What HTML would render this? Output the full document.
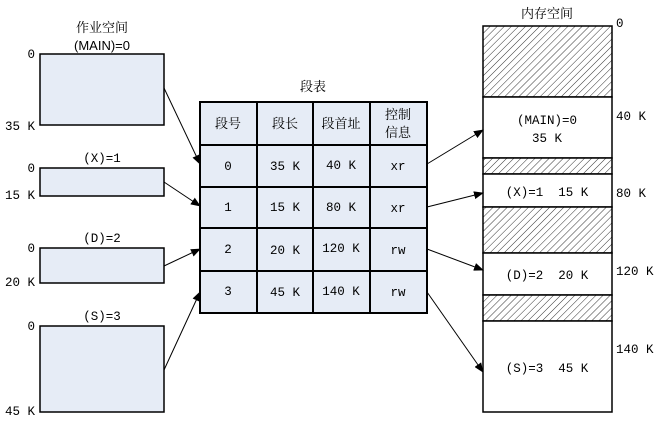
<!DOCTYPE html>
<html><head><meta charset="utf-8"><style>
body{margin:0;background:#fff;}
svg text{font-family:"Liberation Mono","Noto Serif CJK SC",monospace;font-size:12.5px;fill:#000;white-space:pre;}
.cj{font-family:"Liberation Serif","Noto Serif CJK SC",serif;font-size:13px;}
.sn{font-family:"Liberation Sans","Noto Sans CJK SC",sans-serif;font-size:13px;}
</style></head><body>
<svg width="654" height="426" xmlns="http://www.w3.org/2000/svg">
<defs>
<pattern id="h" width="5" height="5" patternUnits="userSpaceOnUse" patternTransform="rotate(45)">
<rect width="5" height="5" fill="#fff"/><line x1="0" y1="0" x2="0" y2="5" stroke="#000" stroke-width="0.8"/></pattern>
<marker id="a" markerWidth="10" markerHeight="8" refX="9" refY="4" orient="auto" markerUnits="userSpaceOnUse">
<path d="M0,0 L10,4 L0,8 z" fill="#000"/></marker>
</defs>
<text x="102" y="32" text-anchor="middle" class="cj" fill="#333">作业空间</text>
<text x="102" y="50" text-anchor="middle" class="sn">(MAIN)=0</text>
<g fill="#e6ecf6" stroke="#000" stroke-width="1.5">
<rect x="40" y="54" width="124" height="71"/>
<rect x="40" y="168" width="124" height="28"/>
<rect x="40" y="248" width="124" height="35"/>
<rect x="40" y="326" width="124" height="86"/>
</g>
<text x="102" y="162" text-anchor="middle">(X)=1</text>
<text x="102" y="242" text-anchor="middle">(D)=2</text>
<text x="102" y="320" text-anchor="middle">(S)=3</text>
<g text-anchor="end">
<text x="35" y="58">0</text><text x="35" y="130">35 K</text>
<text x="35" y="172">0</text><text x="35" y="199">15 K</text>
<text x="35" y="252">0</text><text x="35" y="286">20 K</text>
<text x="35" y="330">0</text><text x="35" y="415">45 K</text>
</g>
<text x="313" y="91" text-anchor="middle" class="cj">段表</text>
<rect x="200" y="102" width="227" height="211" fill="#e6ecf6" stroke="#000" stroke-width="2"/>
<g stroke="#000" stroke-width="2">
<line x1="257" y1="102" x2="257" y2="313"/><line x1="313" y1="102" x2="313" y2="313"/><line x1="370" y1="102" x2="370" y2="313"/>
<line x1="200" y1="145" x2="427" y2="145"/><line x1="200" y1="187" x2="427" y2="187"/><line x1="200" y1="228" x2="427" y2="228"/><line x1="200" y1="271" x2="427" y2="271"/>
</g>
<g text-anchor="middle">
<text x="228" y="128" class="cj">段号</text><text x="285" y="128" class="cj">段长</text><text x="341" y="128" class="cj">段首址</text>
<text x="398" y="119" class="cj">控制</text><text x="398" y="137" class="cj">信息</text>
</g>
<g text-anchor="middle">
<text x="228" y="170">0</text><text x="285" y="170">35 K</text><text x="341" y="169">40 K</text><text x="398" y="170">xr</text>
<text x="228" y="211">1</text><text x="285" y="211">15 K</text><text x="341" y="211">80 K</text><text x="398" y="212">xr</text>
<text x="228" y="253">2</text><text x="285" y="254">20 K</text><text x="341" y="252">120 K</text><text x="398" y="254">rw</text>
<text x="228" y="295">3</text><text x="285" y="296">45 K</text><text x="341" y="295">140 K</text><text x="398" y="296">rw</text>
</g>
<text x="547" y="18" text-anchor="middle" class="cj">内存空间</text>
<g stroke="#000" stroke-width="1.5">
<rect x="483" y="26" width="129" height="71" fill="url(#h)"/>
<rect x="483" y="97" width="129" height="61" fill="#fff"/>
<rect x="483" y="158" width="129" height="16" fill="url(#h)"/>
<rect x="483" y="174" width="129" height="33" fill="#fff"/>
<rect x="483" y="207" width="129" height="46" fill="url(#h)"/>
<rect x="483" y="253" width="129" height="42" fill="#fff"/>
<rect x="483" y="295" width="129" height="26" fill="url(#h)"/>
<rect x="483" y="321" width="129" height="91" fill="#fff"/>
</g>
<g text-anchor="middle">
<text x="547" y="124">(MAIN)=0</text><text x="547" y="142">35 K</text>
<text x="547" y="196">(X)=1  15 K</text>
<text x="547" y="279">(D)=2  20 K</text>
<text x="547" y="372">(S)=3  45 K</text>
</g>
<text x="616" y="27">0</text>
<text x="616" y="120">40 K</text>
<text x="616" y="197">80 K</text>
<text x="616" y="275">120 K</text>
<text x="616" y="353">140 K</text>
<g stroke="#000" stroke-width="1" marker-end="url(#a)">
<line x1="164" y1="88" x2="200" y2="164"/>
<line x1="164" y1="182" x2="200" y2="206"/>
<line x1="164" y1="266" x2="200" y2="249"/>
<line x1="164" y1="370" x2="200" y2="292"/>
<line x1="427" y1="164" x2="483" y2="130"/>
<line x1="427" y1="207" x2="483" y2="193"/>
<line x1="427" y1="249" x2="483" y2="270"/>
<line x1="427" y1="292" x2="483" y2="372"/>
</g>
</svg>
</body></html>
